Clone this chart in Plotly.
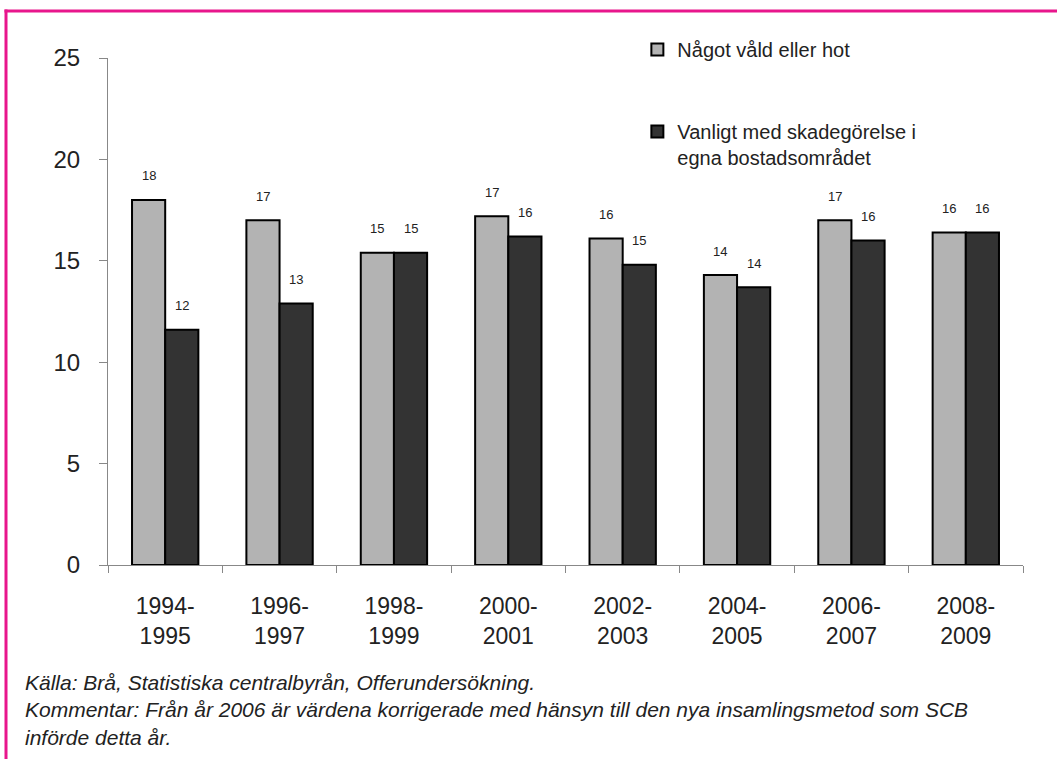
import plotly.graph_objects as go

categories = ["1994-<br>1995", "1996-<br>1997", "1998-<br>1999", "2000-<br>2001",
              "2002-<br>2003", "2004-<br>2005", "2006-<br>2007", "2008-<br>2009"]
series_names = ["Något våld eller hot", "Vanligt med skadegörelse i<br>egna bostadsområdet"]
vald_hot = [18.0, 17.0, 15.4, 17.2, 16.1, 14.3, 17.0, 16.4]
skadegorelse = [11.6, 12.9, 15.4, 16.2, 14.8, 13.7, 16.0, 16.4]
y_ticks = [0, 5, 10, 15, 20, 25]
footnote = ["Källa: Brå, Statistiska centralbyrån, Offerundersökning.",
            "Kommentar: Från år 2006 är värdena korrigerade med hänsyn till den nya insamlingsmetod som SCB",
            "införde detta år."]

FONT = "Liberation Sans, Arial, sans-serif"
TEXT = "#222222"
colors = ["#b3b3b3", "#333333"]

W, H = 1057, 759
L, R, T, B = 108, 34, 58, 194
pw, ph = W - L - R, H - T - B

fig = go.Figure()
for i, (name, vals) in enumerate(zip(series_names, [vald_hot, skadegorelse])):
    fig.add_trace(go.Bar(
        x=categories, y=vals, name=name, legendgroup=f"g{i}",
        marker=dict(color=colors[i], line=dict(color="#000000", width=2)),
    ))

half = pw / len(categories) * (1 - 0.42) / 4
annotations = []
for i, vals in enumerate([vald_hot, skadegorelse]):
    for c, v in zip(categories, vals):
        annotations.append(dict(
            x=c, y=v, xref="x", yref="y", text=str(int(round(v))),
            showarrow=False, xshift=(-half if i == 0 else half), yshift=24,
            yanchor="middle", font=dict(family=FONT, size=13, color=TEXT)))

def px_to_paper_x(px):
    return (px - L) / pw

def px_to_paper_y(py):
    return (H - B - py) / ph

annotations.append(dict(
    x=px_to_paper_x(23), y=px_to_paper_y(669), xref="paper", yref="paper",
    xanchor="left", yanchor="top", align="left", showarrow=False,
    text="<i>" + "<br>".join(footnote) + "</i>",
    font=dict(family=FONT, size=21, color=TEXT)))

border = "#e8168c"
shapes = [
    dict(type="line", xref="paper", yref="paper",
         x0=px_to_paper_x(4.5), x1=px_to_paper_x(W + 5),
         y0=px_to_paper_y(11), y1=px_to_paper_y(11),
         line=dict(color=border, width=3)),
    dict(type="line", xref="paper", yref="paper",
         x0=px_to_paper_x(6), x1=px_to_paper_x(6),
         y0=px_to_paper_y(9.5), y1=px_to_paper_y(H + 5),
         line=dict(color=border, width=3)),
]

fig.update_layout(
    width=W, height=H,
    margin=dict(l=L, r=R, t=T, b=B, autoexpand=False),
    paper_bgcolor="white", plot_bgcolor="white",
    barmode="group", bargap=0.42, bargroupgap=0,
    font=dict(family=FONT, color=TEXT),
    showlegend=True,
    legend=dict(xref="container", yref="container", x=0.603, y=1 - 30 / H,
                xanchor="left", yanchor="top", traceorder="grouped",
                tracegroupgap=53, valign="top",
                font=dict(family=FONT, size=20, color=TEXT),
                bgcolor="rgba(0,0,0,0)"),
    xaxis=dict(showline=True, linecolor="#888888", linewidth=1,
               ticks="outside", tickson="boundaries", ticklen=7, tickcolor="#888888",
               showgrid=False, ticklabelstandoff=20, tickangle=0, automargin=False,
               tickfont=dict(family=FONT, size=23, color=TEXT)),
    yaxis=dict(range=[0, 25], tickvals=y_ticks, showline=True, linecolor="#888888",
               linewidth=1, ticks="outside", ticklen=8, tickcolor="#888888",
               showgrid=False, zeroline=False, ticklabelstandoff=14, automargin=False,
               tickfont=dict(family=FONT, size=24, color=TEXT)),
    annotations=annotations, shapes=shapes,
)

fig.write_html("out.html", config={"displayModeBar": False},
               post_script="document.body.style.margin='0px';document.body.style.overflow='hidden';")
